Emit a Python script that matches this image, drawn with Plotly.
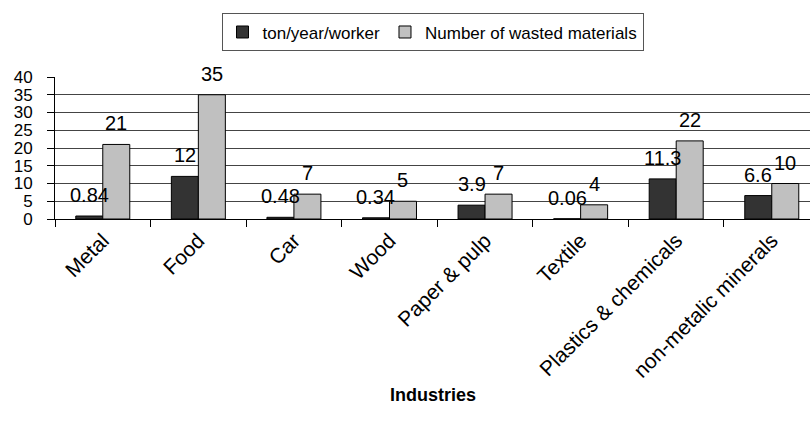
import plotly.graph_objects as go

industries = ["Metal", "Food", "Car", "Wood", "Paper & pulp", "Textile",
              "Plastics & chemicals", "non-metalic minerals"]
ton_per_worker = [0.84, 12, 0.48, 0.34, 3.9, 0.06, 11.3, 6.6]
wasted_materials = [21, 35, 7, 5, 7, 4, 22, 10]
ton_labels = ["0.84", "12", "0.48", "0.34", "3.9", "0.06", "11.3", "6.6"]
wasted_labels = [str(v) for v in wasted_materials]

FONT = "Liberation Sans, Arial, sans-serif"
BARGAP = 0.435
X_RANGE = [-0.5, 7.4]
PLOT_L, PLOT_R = 55, 1
WIDTH = 811

fig = go.Figure()
fig.add_trace(go.Bar(
    x=industries, y=ton_per_worker, name="ton/year/worker",
    marker=dict(color="#333333", line=dict(color="#000000", width=1)),
))
fig.add_trace(go.Bar(
    x=industries, y=wasted_materials, name="Number of wasted materials",
    marker=dict(color="#c0c0c0", line=dict(color="#000000", width=1)),
))

# value labels above each bar, shifted onto the bar's slot in its group
px_per_cat = (WIDTH - PLOT_L - PLOT_R) / (X_RANGE[1] - X_RANGE[0])
half_bar = px_per_cat * (1 - BARGAP) / 4
for labels, values, shift in ((ton_labels, ton_per_worker, -half_bar),
                              (wasted_labels, wasted_materials, half_bar)):
    for cat, val, lab in zip(industries, values, labels):
        fig.add_annotation(
            x=cat, y=val, xref="x", yref="y", text=lab, showarrow=False,
            xanchor="center", yanchor="bottom", xshift=shift, yshift=8,
            font=dict(size=20, family=FONT, color="#000000"),
        )

fig.update_layout(
    width=WIDTH, height=430,
    margin=dict(l=PLOT_L, r=PLOT_R, t=77, b=211),
    paper_bgcolor="#ffffff", plot_bgcolor="#ffffff",
    font=dict(family=FONT, color="#000000"),
    barmode="group", bargap=BARGAP, bargroupgap=0,
    showlegend=True,
    legend=dict(
        orientation="h", x=0.5, xanchor="center", y=1.18, yanchor="bottom",
        font=dict(size=17, family=FONT),
        bordercolor="#555555", borderwidth=1, bgcolor="#ffffff",
        itemwidth=30, traceorder="normal",
    ),
    xaxis=dict(
        range=X_RANGE, showgrid=False,
        tickangle=-45, tickfont=dict(size=21, family=FONT),
        ticks="outside", ticklen=7, tickcolor="#000000",
        tickson="boundaries",
        showline=True, linecolor="#000000", linewidth=1,
    ),
    yaxis=dict(
        range=[0, 40], dtick=5, tick0=0,
        tickfont=dict(size=17, family=FONT),
        ticks="outside", ticklen=7, tickcolor="#000000",
        ticklabelstandoff=11,
        showgrid=True, gridcolor="#444444", gridwidth=1,
        showline=True, linecolor="#000000", linewidth=1,
        zeroline=False,
    ),
)

fig.add_annotation(
    text="<b>Industries</b>", xref="paper", yref="paper",
    x=0.5, y=-1.24, showarrow=False, xanchor="center", yanchor="middle",
    font=dict(size=18, family=FONT),
)

fig.write_html("out.html")
